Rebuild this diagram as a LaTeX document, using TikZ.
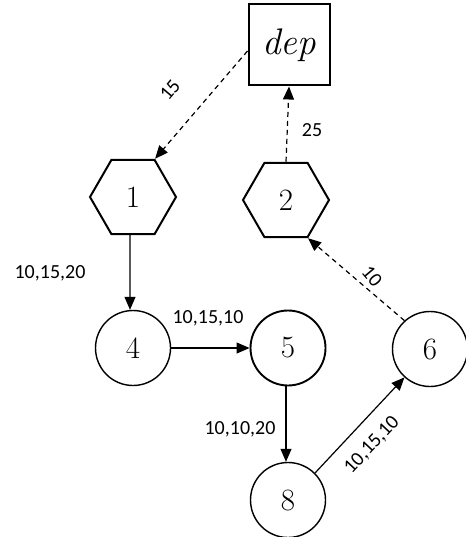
\documentclass[tikz,border=0pt]{standalone}
\usepackage{fontspec}
\newfontfamily\lblfont{Carlito}
\usetikzlibrary{arrows.meta,shapes.geometric}

\begin{document}
\begin{tikzpicture}[x=1pt, y=1pt,
    every node/.style={font=\fontsize{31}{34}\selectfont},
    job/.style={circle, draw, line width=1.4pt, minimum size=75pt, inner sep=0pt},
    hub/.style={regular polygon, regular polygon sides=6,
      draw, line width=2pt, minimum size=86pt, inner sep=0pt},
    depot/.style={rectangle, draw, line width=2pt, minimum size=81pt, inner sep=0pt},
    arc/.style={-{Triangle[length=13pt, width=11pt]}, line width=1.2pt},
    dsh/.style={arc, dash pattern=on 5pt off 4pt},
    lbl/.style={font=\fontsize{20}{24}\selectfont\lblfont}]
  \useasboundingbox (0,0) rectangle (465,-537);
  % depot and hubs
  \node[depot, font=\fontsize{37}{40}\selectfont\itshape] (d) at (289,-45) {dep};
  \node[hub] (n1) at (133,-197) {1};
  \node[hub] (n2) at (286,-200) {2};
  % jobs
  \node[job] (n4) at (133,-348) {4};
  \node[job, line width=1.9pt] (n5) at (288,-348) {5};
  \node[job] (n6) at (430,-349) {6};
  \node[job] (n8) at (288,-500) {8};
  % dashed links to and from the depot
  \draw[dsh] ([yshift=-6pt]d.west) -- (n1.60);
  \draw[dsh] (n2.north) -- (d.south);
  \draw[dsh] (n6.132) -- (n2.-60);
  % solid links
  \draw[arc] ([xshift=-3pt]n1.south) -- ([xshift=-3pt]n4.north);
  \draw[arc] (n4.east) -- (n5.west);
  \draw[arc] ([xshift=-2pt]n5.south) -- ([xshift=-2pt]n8.north);
  \draw[arc] (n8.45) -- (n6.228);
  % labels
  \node[lbl, rotate=50] (l15) at (170,-90) {15};
  \node[lbl] (l25) at (312,-130) {25};
  \node[lbl, rotate=-50] (l10) at (372,-276) {10};
  \node[lbl] (l14) at (50,-273) {10,15,20};
  \node[lbl] (l45) at (208,-318) {10,15,10};
  \node[lbl] (l58) at (240,-429) {10,10,20};
  \node[lbl, rotate=47] (l86) at (372,-445) {10,15,10};
\end{tikzpicture}
\end{document}
